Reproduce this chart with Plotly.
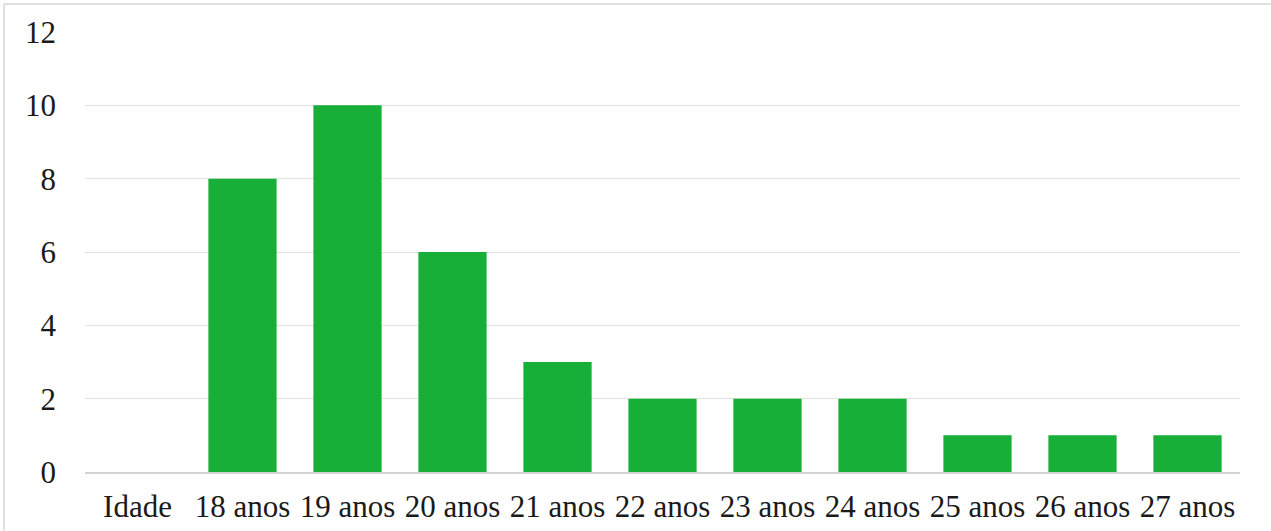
import plotly.graph_objects as go

# Distribution of respondents by age
categories = ["Idade", "18 anos", "19 anos", "20 anos", "21 anos", "22 anos",
              "23 anos", "24 anos", "25 anos", "26 anos", "27 anos"]
counts = [0, 8, 10, 6, 3, 2, 2, 2, 1, 1, 1]
y_ticks = [0, 2, 4, 6, 8, 10, 12]

BAR_GREEN = "#17AF37"
GRID = "#e2e2e2"
FONT = "Liberation Serif, Times New Roman, serif"
FONT_SIZE = 31

fig = go.Figure(
    go.Bar(
        x=categories,
        y=counts,
        marker=dict(color=BAR_GREEN, line=dict(width=0)),
        hoverinfo="x+y",
    )
)

fig.update_layout(
    width=1271,
    height=531,
    margin=dict(l=85, r=31, t=32, b=59),
    paper_bgcolor="white",
    plot_bgcolor="white",
    bargap=0.35,
    showlegend=False,
    font=dict(family=FONT, size=FONT_SIZE, color="#1a1a1a"),
)

fig.update_xaxes(
    type="category",
    automargin=False,
    showgrid=False,
    showline=True,
    linecolor="#d4d4d4",
    linewidth=2,
    ticks="",
    ticklabelstandoff=6,
    tickfont=dict(family=FONT, size=FONT_SIZE, color="#1a1a1a"),
)

fig.update_yaxes(
    range=[0, 12],
    automargin=False,
    tickvals=y_ticks,
    showgrid=True,
    gridcolor=GRID,
    gridwidth=1,
    zeroline=False,
    showline=False,
    ticks="",
    ticklabelstandoff=28,
    tickfont=dict(family=FONT, size=FONT_SIZE, color="#1a1a1a"),
)

# Thin outer frame along the top and left edges of the chart area
fig.add_shape(type="line", xref="paper", yref="paper",
              x0=-0.0701, x1=1.2, y0=1.0636, y1=1.0636,
              line=dict(color="#d6d6d6", width=1.5), layer="below")
fig.add_shape(type="line", xref="paper", yref="paper",
              x0=-0.0701, x1=-0.0701, y0=-0.2, y1=1.0636,
              line=dict(color="#d6d6d6", width=1.5), layer="below")

fig.write_html("out.html")
